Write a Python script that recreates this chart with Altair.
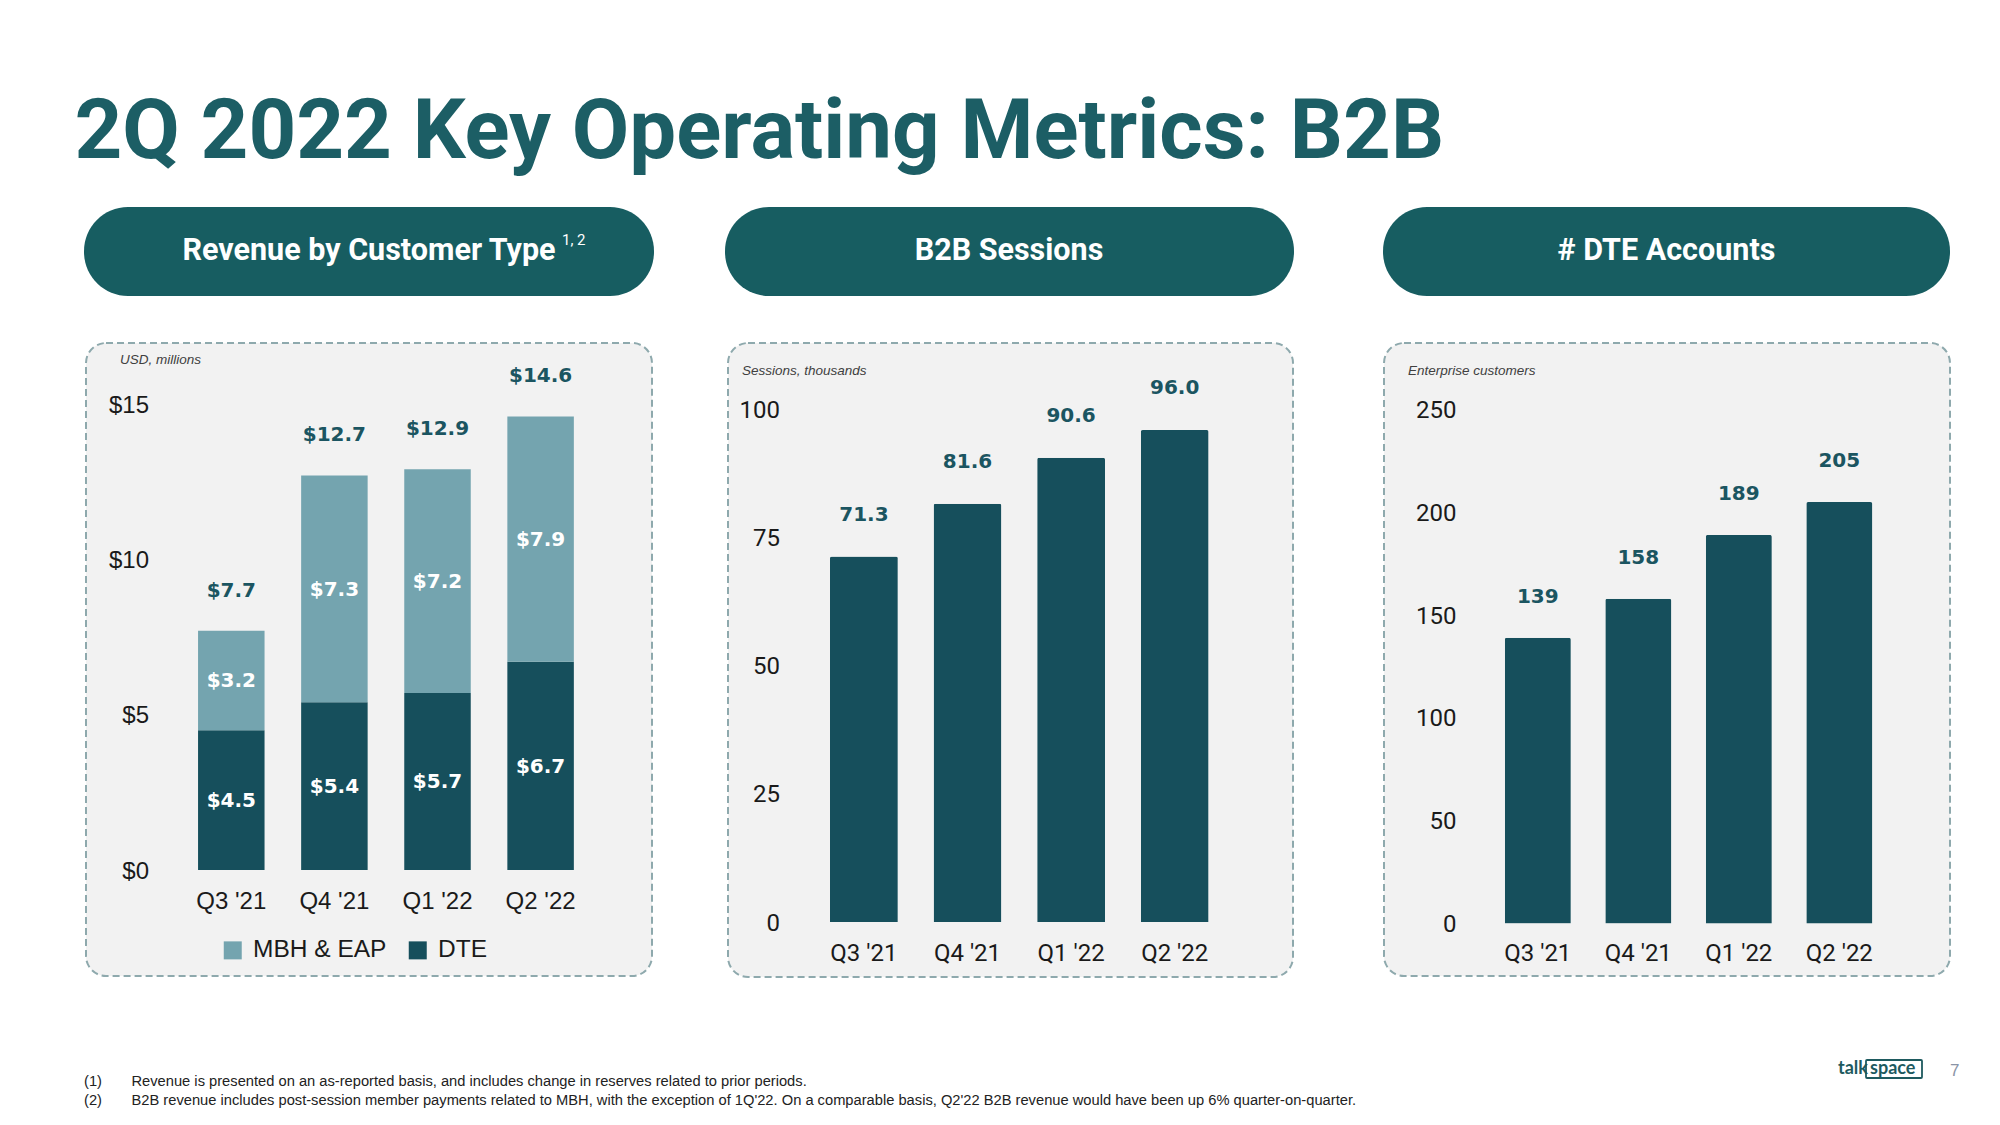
import altair as alt
import pandas as pd

# ---------------- data ----------------
quarters = ["Q3 '21", "Q4 '21", "Q1 '22", "Q2 '22"]
segments = ["MBH & EAP", "DTE"]
dte_revenue = [4.5, 5.4, 5.7, 6.7]
mbh_eap_revenue = [3.2, 7.3, 7.2, 7.9]
total_revenue = [7.7, 12.7, 12.9, 14.6]
b2b_sessions = [71.3, 81.6, 90.6, 96.0]
dte_accounts = [139, 158, 189, 205]
revenue_ticks = [0, 5, 10, 15]
session_ticks = [0, 25, 50, 75, 100]
account_ticks = [0, 50, 100, 150, 200, 250]

title_text = "2Q 2022 Key Operating Metrics: B2B"
panel_titles = ["Revenue by Customer Type", "B2B Sessions", "# DTE Accounts"]
panel_units = ["USD, millions", "Sessions, thousands", "Enterprise customers"]
footnote_marks = ["(1)", "(2)"]
footnotes = [
    "Revenue is presented on an as-reported basis, and includes change in reserves related to prior periods.",
    "B2B revenue includes post-session member payments related to MBH, with the exception of 1Q'22. "
    "On a comparable basis, Q2'22 B2B revenue would have been up 6% quarter-on-quarter.",
]

rev_df = pd.DataFrame({
    "quarter": quarters * 2,
    "segment": ["DTE"] * 4 + ["MBH & EAP"] * 4,
    "value": dte_revenue + mbh_eap_revenue,
    "order": [0] * 4 + [1] * 4,
})
tot_df = pd.DataFrame({"quarter": quarters, "total": total_revenue})
ses_df = pd.DataFrame({"quarter": quarters, "sessions": b2b_sessions})
acc_df = pd.DataFrame({"quarter": quarters, "accounts": dte_accounts})

# ---------------- style ----------------
W, H = 1976, 1100
TEAL = "#1C5E65"
PILL = "#175D61"
DARK = "#164F5C"
LIGHT = "#74A4AF"
LABEL = "#1B5561"
AXIS_TXT = "#1A1A1A"
VALUE_FONT = "DejaVu Sans"


def x_enc(r0, r1, pad):
    return alt.X("quarter:N", sort=quarters, title=None,
                 scale=alt.Scale(range=[r0, r1], paddingInner=pad, paddingOuter=pad / 2),
                 axis=None)


def y_enc(field, domain, r0, r1):
    return alt.Y(field, title=None,
                 scale=alt.Scale(domain=domain, range=[r0, r1], nice=False, zero=True),
                 axis=None)


def x_tick_labels(xspec, label_y, font):
    return alt.Chart(pd.DataFrame({"quarter": quarters})).mark_text(
        font=font, fontSize=24, color=AXIS_TXT, align="center", baseline="middle"
    ).encode(x=x_enc(**xspec), y=alt.value(label_y), text="quarter:N")


def y_tick_labels(ticks, yspec, label_x, fmt, font):
    return alt.Chart(pd.DataFrame({"tick": ticks})).mark_text(
        font=font, fontSize=24, color=AXIS_TXT, align="right", baseline="middle", dy=1.5
    ).encode(x=alt.value(label_x), y=y_enc("tick:Q", **yspec),
             text=alt.Text("tick:Q", format=fmt))


one = alt.Data(values=[{"k": 1}])


def deco_text(text, x, y, **kw):
    return alt.Chart(one).mark_text(text=text, **kw).encode(x=alt.value(x), y=alt.value(y))


def deco_rect(x, x2, y, y2, **kw):
    return alt.Chart(one).mark_rect(**kw).encode(
        x=alt.value(x), x2=alt.value(x2), y=alt.value(y), y2=alt.value(y2))


# ---------------- chart 1: revenue ----------------
X1 = dict(r0=171.75, r1=584.15, pad=0.355)
Y1 = dict(domain=[0, 15], r0=862, r1=396)

bars1 = alt.Chart(rev_df).mark_bar().encode(
    x=x_enc(**X1),
    y=alt.Y("value:Q", stack="zero", title=None, axis=None,
            scale=alt.Scale(domain=[0, 15], range=[862, 396], nice=False, zero=True)),
    color=alt.Color("segment:N",
                    scale=alt.Scale(domain=segments, range=[LIGHT, DARK]),
                    legend=alt.Legend(orient="none", legendX=212.5, legendY=930,
                                      direction="horizontal", title=None,
                                      symbolType="square", symbolSize=324,
                                      symbolStrokeWidth=0, symbolOpacity=1,
                                      labelFont="Liberation Sans", labelFontSize=24.5,
                                      labelColor=AXIS_TXT, labelOffset=8,
                                      columnPadding=19, padding=0)),
    order=alt.Order("order:Q", sort="ascending"),
)

inner1 = alt.Chart(rev_df).transform_stack(
    stack="value", groupby=["quarter"], as_=["v0", "v1"],
    sort=[alt.SortField("order", order="ascending")],
).transform_calculate(
    mid="(datum.v0 + datum.v1) / 2",
).mark_text(font=VALUE_FONT, fontWeight="bold", fontSize=20, color="#FFFFFF",
            baseline="middle", dy=1).encode(
    x=x_enc(**X1),
    y=y_enc("mid:Q", **Y1),
    text=alt.Text("value:Q", format="$.1f"),
)

tot1 = alt.Chart(tot_df).mark_text(font=VALUE_FONT, fontWeight="bold", fontSize=20,
                                   color=LABEL, baseline="middle", dy=-40).encode(
    x=x_enc(**X1),
    y=y_enc("total:Q", **Y1),
    text=alt.Text("total:Q", format="$.1f"),
)

xl1 = x_tick_labels(X1, 893.5, "Liberation Sans")
yl1 = y_tick_labels(revenue_ticks, Y1, 141, "$.0f", "Liberation Sans")

chart1 = alt.layer(bars1, inner1, tot1, xl1, yl1)

# ---------------- chart 2: sessions ----------------
X2 = dict(r0=804.1, r1=1218.5, pad=0.345)
Y2 = dict(domain=[0, 100], r0=914, r1=401.5)

bars2 = alt.Chart(ses_df).mark_bar(color=DARK, cornerRadiusTopLeft=2, cornerRadiusTopRight=2).encode(
    x=x_enc(**X2), y=y_enc("sessions:Q", **Y2))
lab2 = alt.Chart(ses_df).mark_text(font=VALUE_FONT, fontWeight="bold", fontSize=20,
                                   color=LABEL, baseline="middle", dy=-42).encode(
    x=x_enc(**X2), y=y_enc("sessions:Q", **Y2),
    text=alt.Text("sessions:Q", format=".1f"))
xl2 = x_tick_labels(X2, 946, "Roboto")
yl2 = y_tick_labels(session_ticks, Y2, 772, "d", "Roboto")
chart2 = alt.layer(bars2, lab2, xl2, yl2)

# ---------------- chart 3: DTE accounts ----------------
X3 = dict(r0=1479.55, r1=1881.55, pad=0.343)
Y3 = dict(domain=[0, 250], r0=915.5, r1=401.5)

bars3 = alt.Chart(acc_df).mark_bar(color=DARK, cornerRadiusTopLeft=2, cornerRadiusTopRight=2).encode(
    x=x_enc(**X3), y=y_enc("accounts:Q", **Y3))
lab3 = alt.Chart(acc_df).mark_text(font=VALUE_FONT, fontWeight="bold", fontSize=20,
                                   color=LABEL, baseline="middle", dy=-41).encode(
    x=x_enc(**X3), y=y_enc("accounts:Q", **Y3),
    text=alt.Text("accounts:Q", format="d"))
xl3 = x_tick_labels(X3, 946, "Roboto")
yl3 = y_tick_labels(account_ticks, Y3, 1448.5, "d", "Roboto")
chart3 = alt.layer(bars3, lab3, xl3, yl3)

# ---------------- decorations ----------------
box_style = dict(fill="#F2F2F2", stroke="#8EA9AD", strokeWidth=2, strokeDash=[7, 4],
                 cornerRadius=20)
boxes = [
    deco_rect(78, 644, 335, 968, **box_style),
    deco_rect(720, 1285, 335, 969, **box_style),
    deco_rect(1376, 1942, 335, 968, **box_style),
]
pill_style = dict(color=PILL, cornerRadius=44)
pills = [
    deco_rect(76, 646, 199, 288, **pill_style),
    deco_rect(717, 1286, 199, 288, **pill_style),
    deco_rect(1375, 1942, 199, 288, **pill_style),
]
pill_txt = dict(font="Roboto", fontWeight="bold", fontSize=30.5, color="#FFFFFF",
                align="center", baseline="middle")
pill_texts = [
    deco_text(panel_titles[0], 361, 243, **pill_txt),
    deco_text("1, 2", 554, 232, font="Roboto", fontSize=15, color="#FFFFFF",
              align="left", baseline="middle"),
    deco_text(panel_titles[1], 1001, 243, **pill_txt),
    deco_text(panel_titles[2], 1658.5, 243, **pill_txt),
]
unit_style = dict(font="Liberation Sans", fontStyle="italic", fontSize=13.5,
                  color="#404040", align="left", baseline="middle")
units = [
    deco_text(panel_units[0], 112, 352, **unit_style),
    deco_text(panel_units[1], 734, 363, **unit_style),
    deco_text(panel_units[2], 1400, 363, **unit_style),
]
title = deco_text(title_text, 66.5, 150, font="Roboto", fontWeight="bold", fontSize=83.4,
                  color=TEAL, align="left", baseline="alphabetic")

fn_style = dict(font="Liberation Sans", fontSize=14.7, color="#222222", align="left",
                baseline="middle")
notes = [
    deco_text(footnote_marks[0], 76, 1074, **fn_style),
    deco_text(footnotes[0], 123.5, 1074, **fn_style),
    deco_text(footnote_marks[1], 76, 1093, **fn_style),
    deco_text(footnotes[1], 123.5, 1093, **fn_style),
]
logo = [
    deco_text("talk", 1830, 1066, font="Lato", fontWeight="bold", fontSize=18,
              color="#1E5A5F", align="left", baseline="alphabetic"),
    deco_rect(1858, 1914, 1052, 1070, fill=None, stroke="#1E5A5F", strokeWidth=1.8,
              cornerRadius=1),
    deco_text("space", 1862, 1066, font="Lato", fontWeight="bold", fontSize=18,
              color="#1E5A5F", align="left", baseline="alphabetic"),
    deco_text("7", 1942, 1063, font="Liberation Sans", fontSize=17, color="#8A94A6",
              align="left", baseline="middle"),
]

chart = alt.layer(
    *boxes, *pills, *pill_texts, *units, title,
    chart1, chart2, chart3,
    *notes, *logo,
).resolve_scale(
    x="independent", y="independent", color="independent"
).properties(
    width=W, height=H, padding=0, background="white"
).configure_view(stroke=None)

chart.save("out.html", embed_options={"renderer": "svg", "actions": False})
